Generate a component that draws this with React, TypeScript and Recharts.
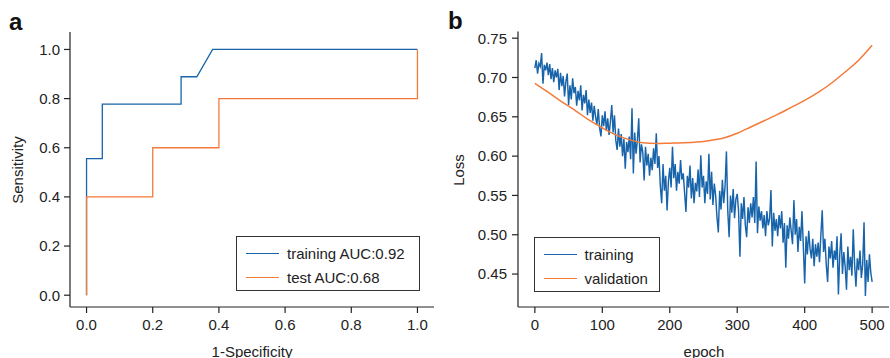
import React from 'react';
import { LineChart, Line, XAxis, YAxis, Legend } from 'recharts';

const FONT = '"Liberation Sans", Arial, Helvetica, sans-serif';
const BLUE = '#1764AB';
const ORANGE = '#F47A3A';
const INK = '#222222';

// ---- Panel a: ROC curves ----
const rocTrainFpr = [0, 0, 0.0476, 0.0476, 0.2857, 0.2857, 0.3333, 0.381, 1.0];
const rocTrainTpr = [0, 0.5556, 0.5556, 0.7778, 0.7778, 0.8889, 0.8889, 1.0, 1.0];
const rocTestFpr = [0, 0, 0.2, 0.2, 0.4, 0.4, 1.0, 1.0];
const rocTestTpr = [0, 0.4, 0.4, 0.6, 0.6, 0.8, 0.8, 1.0];
const rocTicks = [0, 0.2, 0.4, 0.6, 0.8, 1.0];
const rocTrainName = 'training AUC:0.92';
const rocTestName = 'test AUC:0.68';

// ---- Panel b: loss curves ----
// training loss, one reading every 2 epochs (0..500)
const trainingLoss = [
  0.712, 0.722, 0.705, 0.718, 0.714, 0.731, 0.692, 0.716, 0.709, 0.719,
  0.703, 0.717, 0.698, 0.712, 0.694, 0.709, 0.700, 0.711, 0.684, 0.706,
  0.689, 0.702, 0.676, 0.695, 0.705, 0.665, 0.690, 0.672, 0.699, 0.680,
  0.688, 0.664, 0.683, 0.671, 0.690, 0.658, 0.678, 0.667, 0.684, 0.652,
  0.672, 0.655, 0.668, 0.645, 0.664, 0.650, 0.640, 0.660, 0.636, 0.625,
  0.652, 0.638, 0.657, 0.632, 0.648, 0.627, 0.644, 0.665, 0.630, 0.652,
  0.620, 0.608, 0.635, 0.612, 0.628, 0.600, 0.622, 0.584, 0.618, 0.605,
  0.625, 0.596, 0.661, 0.578, 0.630, 0.603, 0.620, 0.648, 0.592, 0.615,
  0.605, 0.569, 0.612, 0.588, 0.603, 0.575, 0.598, 0.582, 0.610, 0.590,
  0.629, 0.585, 0.600, 0.562, 0.540, 0.590, 0.556, 0.575, 0.531, 0.568,
  0.585, 0.560, 0.612, 0.572, 0.590, 0.556, 0.580, 0.565, 0.595, 0.570,
  0.578, 0.553, 0.529, 0.575, 0.560, 0.588, 0.546, 0.572, 0.540, 0.566,
  0.555, 0.583, 0.548, 0.601, 0.560, 0.575, 0.540, 0.568, 0.552, 0.603,
  0.545, 0.580, 0.538, 0.565, 0.550, 0.522, 0.503, 0.556, 0.532, 0.570,
  0.540, 0.562, 0.606, 0.530, 0.497, 0.550, 0.528, 0.558, 0.521, 0.545,
  0.552, 0.530, 0.472, 0.540, 0.520, 0.548, 0.512, 0.497, 0.535, 0.515,
  0.540, 0.522, 0.548, 0.515, 0.593, 0.502, 0.536, 0.518, 0.530, 0.508,
  0.525, 0.498, 0.530, 0.512, 0.520, 0.557, 0.485, 0.528, 0.505, 0.520,
  0.498, 0.525, 0.508, 0.530, 0.490, 0.515, 0.458, 0.512, 0.495, 0.522,
  0.505, 0.488, 0.544, 0.500, 0.520, 0.478, 0.510, 0.492, 0.530, 0.485,
  0.438, 0.498, 0.475, 0.505, 0.482, 0.470, 0.495, 0.460, 0.488, 0.472,
  0.490, 0.465, 0.500, 0.531, 0.478, 0.495, 0.462, 0.440, 0.485, 0.470,
  0.492, 0.458, 0.480, 0.468, 0.498, 0.424, 0.475, 0.502, 0.450, 0.478,
  0.460, 0.430, 0.485, 0.455, 0.472, 0.448, 0.507, 0.462, 0.434, 0.470,
  0.455, 0.480, 0.445, 0.462, 0.516, 0.422, 0.468, 0.440, 0.475, 0.452,
  0.440,
];
const trainingStep = 2;
const validationEpochs = [0, 20, 40, 60, 80, 100, 120, 140, 160, 180, 200, 220, 240, 260, 280, 300, 320, 340, 360, 380, 400, 420, 440, 460, 480, 500];
const validationLoss = [0.6925, 0.681, 0.669, 0.658, 0.646, 0.636, 0.627, 0.621, 0.617, 0.616, 0.6165, 0.617, 0.618, 0.620, 0.623, 0.629, 0.637, 0.645, 0.653, 0.662, 0.671, 0.681, 0.693, 0.707, 0.722, 0.741];
const epochTicks = [0, 100, 200, 300, 400, 500];
const lossTicks = [0.45, 0.5, 0.55, 0.6, 0.65, 0.7, 0.75];

const rocTrain = rocTrainFpr.map((x, i) => ({ x, y: rocTrainTpr[i] }));
const rocTest = rocTestFpr.map((x, i) => ({ x, y: rocTestTpr[i] }));
const trainData = trainingLoss.map((v, i) => ({ x: i * trainingStep, y: v }));
const valData = validationEpochs.map((x, i) => ({ x, y: validationLoss[i] }));

const tickStyle = { fontFamily: FONT, fontSize: 15, fill: INK };
const axisLineStyle = { stroke: INK, strokeWidth: 1.2 };

function makeLegend(box: { width: number; height: number }, order: string[]) {
  return (props: any) => {
    const payload = [...(props.payload || [])].sort(
      (a: any, b: any) => order.indexOf(a.value) - order.indexOf(b.value)
    );
    return (
      <div
        style={{
          position: 'absolute',
          left: 0,
          top: 0,
          width: box.width,
          height: box.height,
          boxSizing: 'border-box',
          border: '1.3px solid #333',
          background: '#fff',
          fontFamily: FONT,
          fontSize: 15,
          color: INK,
        }}
      >
        {payload.map((p: any, i: number) => (
          <div key={i} style={{ position: 'absolute', left: 0, top: i === 0 ? 6 : 29.5, height: 22, width: '100%' }}>
            <div style={{ position: 'absolute', left: 9, top: 10, width: 33, height: 0, borderTop: `1.5px solid ${p.color}` }} />
            <div style={{ position: 'absolute', left: 50, top: 2, lineHeight: '18px', whiteSpace: 'nowrap' }}>{p.value}</div>
          </div>
        ))}
      </div>
    );
  };
}

function PanelA() {
  const box = { left: 236, top: 236, width: 184, height: 55 };
  return (
    <LineChart width={445} height={358} margin={{ top: 32, right: 11, left: 0, bottom: 0 }}>
      <XAxis
        dataKey="x"
        type="number"
        domain={[-0.05, 1.05]}
        ticks={rocTicks}
        tickFormatter={(v: number) => v.toFixed(1)}
        height={51}
        tickSize={6}
        tickMargin={6}
        tick={tickStyle}
        axisLine={axisLineStyle}
        tickLine={axisLineStyle}
        allowDataOverflow
      />
      <XAxis xAxisId="top" orientation="top" type="number" domain={[-0.05, 1.05]} height={0} tick={false} tickLine={false} axisLine={axisLineStyle} />
      <YAxis
        dataKey="y"
        type="number"
        domain={[-0.048, 1.071]}
        ticks={rocTicks}
        tickFormatter={(v: number) => v.toFixed(1)}
        width={70}
        tickSize={6}
        tickMargin={4}
        tick={tickStyle}
        axisLine={axisLineStyle}
        tickLine={axisLineStyle}
        allowDataOverflow
      />
      <YAxis yAxisId="right" orientation="right" type="number" domain={[0, 1]} width={0} tick={false} tickLine={false} axisLine={axisLineStyle} />
      <Line data={rocTrain} dataKey="y" name={rocTrainName} type="linear" stroke={BLUE} strokeWidth={1.3} dot={false} isAnimationActive={false} />
      <Line data={rocTest} dataKey="y" name={rocTestName} type="linear" stroke={ORANGE} strokeWidth={1.3} dot={false} isAnimationActive={false} />
      <Legend
        layout="vertical"
        align="center"
        verticalAlign="middle"
        content={makeLegend(box, [rocTrainName, rocTestName])}
        wrapperStyle={{ position: 'absolute', left: box.left, top: box.top, width: box.width, height: box.height }}
      />
    </LineChart>
  );
}

function PanelB() {
  const box = { left: 88.5, top: 237, width: 126, height: 55 };
  return (
    <LineChart width={445} height={358} margin={{ top: 31.5, right: 1, left: 0, bottom: 0 }}>
      <XAxis
        dataKey="x"
        type="number"
        domain={[-25, 525]}
        ticks={epochTicks}
        height={51}
        tickSize={6}
        tickMargin={6}
        tick={tickStyle}
        axisLine={axisLineStyle}
        tickLine={axisLineStyle}
        allowDataOverflow
      />
      <XAxis xAxisId="top" orientation="top" type="number" domain={[-25, 525]} height={0} tick={false} tickLine={false} axisLine={axisLineStyle} />
      <YAxis
        dataKey="y"
        type="number"
        domain={[0.4081, 0.7585]}
        ticks={lossTicks}
        tickFormatter={(v: number) => v.toFixed(2)}
        width={73}
        tickSize={6}
        tickMargin={5}
        tick={tickStyle}
        axisLine={axisLineStyle}
        tickLine={axisLineStyle}
        allowDataOverflow
      />
      <YAxis yAxisId="right" orientation="right" type="number" domain={[0, 1]} width={0} tick={false} tickLine={false} axisLine={axisLineStyle} />
      <Line data={trainData} dataKey="y" name="training" type="linear" stroke={BLUE} strokeWidth={1.45} dot={false} isAnimationActive={false} />
      <Line data={valData} dataKey="y" name="validation" type="monotone" stroke={ORANGE} strokeWidth={1.5} dot={false} isAnimationActive={false} />
      <Legend
        layout="vertical"
        align="center"
        verticalAlign="middle"
        content={makeLegend(box, ['training', 'validation'])}
        wrapperStyle={{ position: 'absolute', left: box.left, top: box.top, width: box.width, height: box.height }}
      />
    </LineChart>
  );
}

export default function App() {
  return (
    <div style={{ position: 'absolute', left: 0, top: 0, width: 890, height: 358, background: '#fff', overflow: 'hidden' }}>
      <div style={{ position: 'absolute', left: 0, top: 0 }}>
        <PanelA />
      </div>
      <div style={{ position: 'absolute', left: 445, top: 0 }}>
        <PanelB />
      </div>
      <svg width={890} height={358} style={{ position: 'absolute', left: 0, top: 0, pointerEvents: 'none' }} fontFamily={FONT}>
        <text x={9} y={29.5} fontSize={24} fontWeight="bold" fill="#111">a</text>
        <text x={448} y={28.5} fontSize={24} fontWeight="bold" fill="#111">b</text>
        <text x={17.5} y={170} fontSize={15} fill={INK} textAnchor="middle" dominantBaseline="central" transform="rotate(-90 17.5 170)">Sensitivity</text>
        <text x={252} y={356.5} fontSize={15} fill={INK} textAnchor="middle">1-Specificity</text>
        <text x={458} y={170} fontSize={15} fill={INK} textAnchor="middle" dominantBaseline="central" transform="rotate(-90 458 170)">Loss</text>
        <text x={704} y={356.5} fontSize={15} fill={INK} textAnchor="middle">epoch</text>
      </svg>
    </div>
  );
}
